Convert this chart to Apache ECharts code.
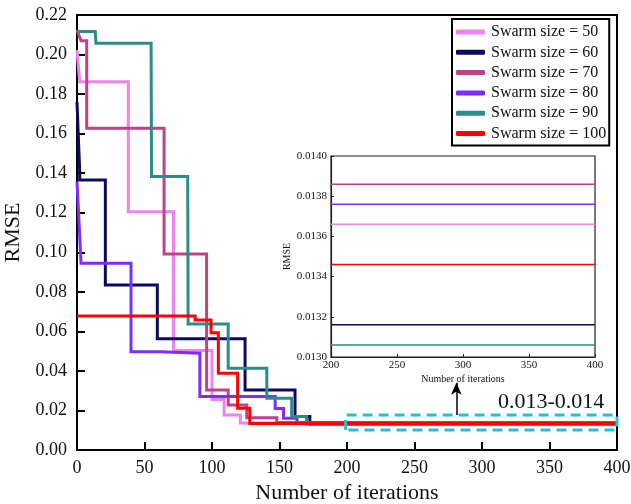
<!DOCTYPE html>
<html>
<head>
<meta charset="utf-8">
<script src="https://cdn.jsdelivr.net/npm/echarts@6/dist/echarts.min.js"></script>
<style>
  html, body { margin: 0; padding: 0; background: #fff; }
  #chart { width: 631px; height: 504px; }
</style>
</head>
<body>
<div id="chart"></div>
<script>
// Convergence of RMSE for different swarm sizes, [iteration, RMSE] step points
const swarmNames = ['Swarm size = 50', 'Swarm size = 60', 'Swarm size = 70',
                    'Swarm size = 80', 'Swarm size = 90', 'Swarm size = 100'];
const swarmColors = ['#EE82EE', '#0B0B5E', '#C0408A', '#7D2EFF', '#2E8B8B', '#FF0000'];

const swarm50 = [[0,0.2023],[2,0.1863],[38,0.1863],[38,0.1205],[71.5,0.1205],[71.5,0.0503],
  [100,0.0503],[100,0.0255],[109,0.0255],[109,0.0177],[121,0.0177],[121,0.01366],[400,0.01366]];
const swarm60 = [[0,0.176],[2,0.1408],[2,0.1366],[21,0.1366],[21,0.0835],[59.5,0.0835],
  [59.5,0.0563],[124.5,0.0563],[124.5,0.0303],[161.5,0.0303],[161.5,0.0169],[172.5,0.0169],
  [172.5,0.01316],[400,0.01316]];
const swarm70 = [[0,0.2124],[3,0.207],[7.2,0.207],[7.2,0.1627],[64.5,0.1627],[64.5,0.0991],
  [96,0.0991],[96,0.0303],[112,0.0303],[112,0.0228],[125.8,0.0228],[125.8,0.0163],
  [148,0.0163],[148,0.01386],[400,0.01386]];
const swarm80 = [[0,0.1357],[3,0.0944],[40,0.0944],[40,0.0497],[62,0.0497],[62,0.0489],
  [91,0.0489],[91,0.027],[146.8,0.027],[146.8,0.021],[153,0.021],[153,0.016],[163,0.016],
  [163,0.01376],[400,0.01376]];
const swarm90 = [[0,0.2116],[13.5,0.2116],[14,0.2057],[54.9,0.2057],[55.2,0.1383],[82,0.1383],
  [82.3,0.0637],[112,0.0637],[112,0.0413],[140.6,0.0413],[140.6,0.0262],[159,0.0262],
  [159,0.0169],[170,0.0169],[170,0.01306],[400,0.01306]];
const swarm100 = [[0,0.0678],[87.5,0.0678],[87.5,0.0658],[99.3,0.0658],[99.3,0.0593],
  [104.7,0.0593],[104.7,0.0388],[119,0.0388],[119,0.0211],[128,0.0211],[128,0.01346],[400,0.01346]];
const swarmSeries = [swarm50, swarm60, swarm70, swarm80, swarm90, swarm100];

// Final RMSE per swarm size (enlarged view, iterations 200-400)
const finalRmse = [0.01366, 0.01316, 0.01386, 0.01376, 0.01306, 0.01346];
const zoomRange = [200, 400];

// Highlighted band and pointer in the main plot
const bandX = [199, 400];
const bandY = [0.0101, 0.0177];
const pointerX = 281;
const pointerTop = 0.034;
const bandLabel = '0.013-0.014';

const serif = '"Liberation Serif", "Times New Roman", "DejaVu Serif", serif';

const chart = echarts.init(document.getElementById('chart'), null, { renderer: 'canvas' });

const series = [];
swarmSeries.forEach((d, i) => {
  series.push({
    name: swarmNames[i], type: 'line', xAxisIndex: 0, yAxisIndex: 0,
    data: d, showSymbol: false, symbol: 'none',
    lineStyle: { color: swarmColors[i], width: 3, join: 'miter' },
    itemStyle: { color: swarmColors[i] },
    z: 3 + i
  });
});
swarmSeries.forEach((d, i) => {
  series.push({
    name: swarmNames[i], type: 'line', xAxisIndex: 1, yAxisIndex: 1,
    data: [[zoomRange[0], finalRmse[i]], [zoomRange[1], finalRmse[i]]],
    showSymbol: false, symbol: 'none',
    lineStyle: { color: swarmColors[i], width: 1.5 },
    itemStyle: { color: swarmColors[i] },
    z: 20
  });
});
// dashed band outline with pointer arrow
series.push({
  name: 'band', type: 'line', xAxisIndex: 0, yAxisIndex: 0,
  data: [[bandX[0], bandY[0]], [bandX[0], bandY[1]], [bandX[1], bandY[1]],
         [bandX[1], bandY[0]], [bandX[0], bandY[0]]],
  showSymbol: false, symbol: 'none', silent: true,
  lineStyle: { color: '#1FC6CF', width: 3, type: [10, 6] },
  z: 12,
  markLine: {
    silent: true, symbol: ['none', 'arrow'], symbolSize: [8, 12],
    label: { show: false },
    lineStyle: { color: '#000', width: 1.5, type: 'solid' },
    data: [[{ coord: [pointerX, bandY[1]] }, { coord: [pointerX, pointerTop] }]]
  }
});

const axisCommon = {
  axisLine: { show: true, onZero: false, lineStyle: { color: '#000', width: 2 } },
  axisTick: { show: true, inside: true, length: 8, lineStyle: { color: '#000', width: 2 } },
  splitLine: { show: false },
  axisLabel: { color: '#111', fontFamily: serif, fontSize: 18 }
};

const option = {
  animation: false,
  backgroundColor: '#fff',
  grid: [
    { left: 77, top: 15, width: 540, height: 435, show: true, borderColor: '#000', borderWidth: 2,
      containLabel: false, outerBoundsMode: 'none', z: 1 },
    { left: 331, top: 156, width: 264, height: 201, show: true, borderColor: '#222', borderWidth: 1.2,
      containLabel: false, outerBoundsMode: 'none', backgroundColor: '#fff', z: 15 }
  ],
  xAxis: [
    Object.assign({}, axisCommon, {
      type: 'value', gridIndex: 0, min: 0, max: 400, interval: 50,
      name: 'Number of iterations', nameLocation: 'middle', nameGap: 30,
      nameTextStyle: { fontFamily: serif, fontSize: 22, color: '#111' },
      axisLabel: { color: '#111', fontFamily: serif, fontSize: 18, margin: 9 }
    }),
    {
      type: 'value', gridIndex: 1, min: 200, max: 400, interval: 50, z: 16,
      name: 'Number of iterations', nameLocation: 'middle', nameGap: 17,
      nameTextStyle: { fontFamily: serif, fontSize: 10, color: '#111' },
      axisLine: { show: true, onZero: false, lineStyle: { color: '#222', width: 1.2 } },
      axisTick: { show: true, inside: true, length: 3, lineStyle: { color: '#222', width: 1 } },
      splitLine: { show: false },
      axisLabel: { color: '#111', fontFamily: serif, fontSize: 11, margin: 3 }
    }
  ],
  yAxis: [
    Object.assign({}, axisCommon, {
      type: 'value', gridIndex: 0, min: 0, max: 0.22, interval: 0.02,
      name: 'RMSE', nameLocation: 'middle', nameGap: 49,
      nameTextStyle: { fontFamily: serif, fontSize: 22, color: '#111' },
      axisLabel: { color: '#111', fontFamily: serif, fontSize: 18, margin: 10,
                   formatter: v => v.toFixed(2) }
    }),
    {
      type: 'value', gridIndex: 1, min: 0.0130, max: 0.0140, interval: 0.0002, z: 16,
      name: 'RMSE', nameLocation: 'middle', nameGap: 34,
      nameTextStyle: { fontFamily: serif, fontSize: 10, color: '#111' },
      axisLine: { show: true, onZero: false, lineStyle: { color: '#222', width: 1.2 } },
      axisTick: { show: true, inside: true, length: 3, lineStyle: { color: '#222', width: 1 } },
      splitLine: { show: false },
      axisLabel: { color: '#111', fontFamily: serif, fontSize: 11, margin: 4,
                   formatter: v => v.toFixed(4) }
    }
  ],
  legend: {
    data: swarmNames,
    orient: 'vertical',
    left: 452, top: 19,
    padding: [5, 3, 4, 4],
    itemGap: 4.3,
    itemWidth: 29, itemHeight: 5,
    icon: 'roundRect',
    backgroundColor: '#fff',
    borderColor: '#000', borderWidth: 2,
    textStyle: { fontFamily: serif, fontSize: 16, color: '#111', padding: [0, 0, 0, 1] },
    z: 30
  },
  graphic: [{
    type: 'text', left: 498, top: 391, z: 40,
    style: { text: bandLabel, font: '22px ' + serif, fill: '#111' }
  }],
  series: series
};

chart.setOption(option);
</script>
</body>
</html>
